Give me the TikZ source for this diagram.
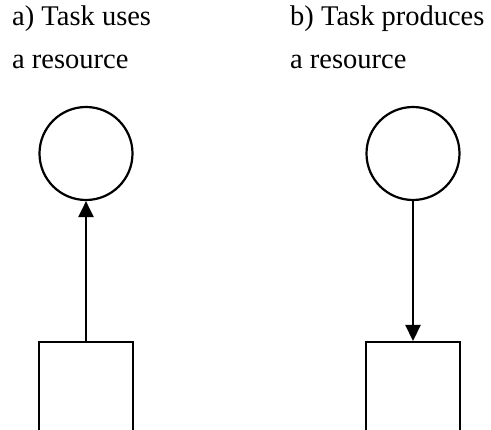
\documentclass[tikz,border=0pt]{standalone}
\usepackage{fontspec}
\setmainfont{Liberation Serif}
\usetikzlibrary{arrows.meta}
\begin{document}
\begin{tikzpicture}[x=1pt,y=-1pt,
  res/.style={draw,circle,line width=2.2pt,minimum size=93pt,inner sep=0pt},
  taskbox/.style={draw,rectangle,line width=2.2pt,minimum width=94pt,minimum height=180pt,inner sep=0pt,anchor=north},
  lbl/.style={font=\fontsize{28.5}{43}\selectfont,align=left,anchor=base west,inner sep=0pt},
  link/.style={line width=2.2pt,-{Triangle[length=16pt,width=15pt]}}]
\useasboundingbox (0,0) rectangle (491,430);
\clip (0,0) rectangle (491,430);
\node[lbl] (la) at (12,69) {a) Task uses\\a resource};
\node[lbl] (lb) at (290,69) {b) Task produces\\a resource};
\node[res] (ra) at (86,153.5) {};
\node[res] (rb) at (413,153.5) {};
\node[taskbox] (ta) at (86,341) {};
\node[taskbox] (tb) at (413,341) {};
\draw[link] (ta.north) -- (ra.south);
\draw[link] (rb.south) -- (tb.north);
\end{tikzpicture}
\end{document}
